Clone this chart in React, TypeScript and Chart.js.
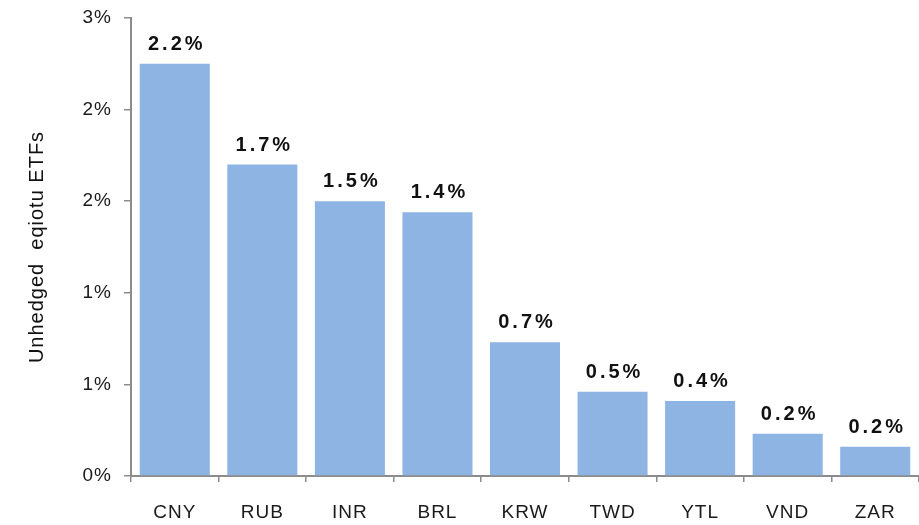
import React, { useEffect, useRef } from "react";
import { Chart, registerables } from "chart.js";

Chart.register(...registerables);

const categories = ["CNY", "RUB", "INR", "BRL", "KRW", "TWD", "YTL", "VND", "ZAR"];
const values = [2.25, 1.7, 1.5, 1.44, 0.73, 0.46, 0.41, 0.23, 0.16];
const valueLabels = ["2.2%", "1.7%", "1.5%", "1.4%", "0.7%", "0.5%", "0.4%", "0.2%", "0.2%"];
const yTitle = "Unhedged  eqiotu ETFs";

const FONT = "'Liberation Sans', Arial, Helvetica, sans-serif";

const spacingPlugin = {
  id: "spacing",
  beforeDraw(chart: any) {
    (chart.ctx as any).letterSpacing = "1px";
  },
};

const labelPlugin = {
  id: "barLabels",
  afterDatasetsDraw(chart: any) {
    const ctx = chart.ctx;
    const meta = chart.getDatasetMeta(0);
    ctx.save();
    (ctx as any).letterSpacing = "3px";
    ctx.font = `bold 20px ${FONT}`;
    ctx.fillStyle = "#111";
    ctx.textAlign = "center";
    ctx.textBaseline = "alphabetic";
    meta.data.forEach((bar: any, i: number) => {
      ctx.fillText(valueLabels[i], bar.x + 2, bar.y - 14);
    });
    ctx.restore();
  },
};

export default function App() {
  const ref = useRef<HTMLCanvasElement | null>(null);
  useEffect(() => {
    if (!ref.current) return;
    const chart = new Chart(ref.current, {
      type: "bar",
      data: {
        labels: categories,
        datasets: [
          {
            data: values,
            backgroundColor: "#8EB4E3",
            borderWidth: 0,
            categoryPercentage: 1,
            barPercentage: 0.8,
          },
        ],
      },
      options: {
        animation: false,
        responsive: true,
        maintainAspectRatio: false,
        layout: { padding: { top: 0, right: 0, left: 0, bottom: 0 } },
        plugins: { legend: { display: false }, tooltip: { enabled: false } },
        scales: {
          x: {
            grid: {
              offset: true,
              drawOnChartArea: false,
              drawTicks: true,
              tickLength: 6,
              color: "#8c8c8c",
              lineWidth: 1.5,
            },
            border: { color: "#8c8c8c", width: 2 },
            ticks: {
              color: "#1a1a1a",
              font: { family: FONT, size: 19 },
              padding: 19,
            },
            afterFit(scale: any) {
              scale.height = 49;
            },
          },
          y: {
            min: 0,
            max: 2.5,
            grid: {
              drawOnChartArea: false,
              drawTicks: true,
              tickLength: 7,
              color: "#8c8c8c",
              lineWidth: 1.5,
            },
            border: { color: "#8c8c8c", width: 2 },
            ticks: {
              stepSize: 0.5,
              color: "#1a1a1a",
              font: { family: FONT, size: 19 },
              padding: 12,
              callback: (v: any) => Number(v).toFixed(0) + "%",
            },
            title: {
              display: true,
              text: yTitle,
              color: "#111",
              font: { family: FONT, size: 20 },
              padding: { top: 25, bottom: 0 },
            },
            afterFit(scale: any) {
              scale.width = 131;
              scale.paddingTop = 18;
            },
          },
        },
      },
      plugins: [spacingPlugin, labelPlugin],
    });
    return () => chart.destroy();
  }, []);
  return (
    <div style={{ position: "absolute", left: 0, top: 0, width: 919, height: 525, background: "#fff" }}>
      <canvas ref={ref} />
    </div>
  );
}
